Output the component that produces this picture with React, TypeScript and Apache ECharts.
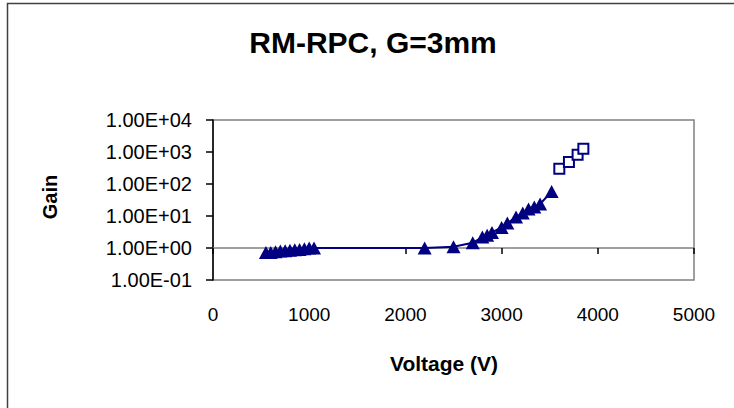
import React, { useEffect, useRef } from "react";
import * as echarts from "echarts";

const titleText = "RM-RPC, G=3mm";
const xName = "Voltage (V)";
const yName = "Gain";

const triVoltage = [550, 600, 650, 700, 750, 800, 850, 900, 950, 1000, 1050, 2200, 2500, 2700, 2800, 2850, 2900, 3000, 3060, 3150, 3220, 3280, 3340, 3400, 3520];
const triGain = [0.72, 0.72, 0.76, 0.8, 0.82, 0.85, 0.88, 0.9, 0.95, 1.0, 1.0, 1.0, 1.1, 1.45, 2.2, 2.5, 3.05, 4.4, 6.0, 9.3, 12.4, 16.6, 19, 23.7, 58];

const sqVoltage = [3600, 3700, 3790, 3850];
const sqGain = [300, 490, 820, 1260];

const xTickLabels = ["0", "1000", "2000", "3000", "4000", "5000"];
const yTickLabels = ["1.00E-01", "1.00E+00", "1.00E+01", "1.00E+02", "1.00E+03", "1.00E+04"];

export default function App() {
  const ref = useRef<HTMLDivElement>(null);
  useEffect(() => {
    if (!ref.current) return;
    const chart = echarts.init(ref.current, null, { renderer: "svg" });
    const navy = "#000080";
    const font = "Arial, 'Liberation Sans', sans-serif";
    chart.setOption({
      animation: false,
      backgroundColor: "#fff",
      grid: {
        left: 213,
        top: 120,
        right: 40,
        bottom: 128,
        show: true,
        borderColor: "#808080",
        borderWidth: 1.5,
        outerBoundsMode: "none",
      },
      xAxis: [
        {
          type: "value",
          min: 0,
          max: 5000,
          interval: 1000,
          position: "bottom",
          axisLine: { show: false },
          axisTick: { show: false },
          splitLine: { show: false },
          axisLabel: {
            fontSize: 19,
            fontFamily: font,
            color: "#000",
            margin: 25,
            formatter: (v: number) => xTickLabels[Math.round(v / 1000)] ?? "",
          },
        },
        {
          type: "value",
          min: 0,
          max: 5000,
          interval: 1000,
          position: "bottom",
          offset: -32,
          axisLine: { show: true, onZero: false, lineStyle: { color: "#808080", width: 1.5 } },
          axisTick: { show: true, length: 6, lineStyle: { color: "#000", width: 1.5 } },
          splitLine: { show: false },
          axisLabel: { show: false },
        },
      ],
      yAxis: {
        type: "log",
        logBase: 10,
        min: 0.1,
        max: 10000,
        splitNumber: 5,
        axisLine: { show: true, lineStyle: { color: "#000", width: 1.5 } },
        axisTick: { show: true, length: 7, lineStyle: { color: "#000", width: 1.5 } },
        splitLine: { show: false },
        axisLabel: {
          fontSize: 20,
          fontFamily: font,
          color: "#000",
          margin: 21,
          formatter: (v: number) => yTickLabels[Math.round(Math.log10(v)) + 1] ?? "",
        },
      },
      graphic: [
        {
          type: "rect",
          shape: { x: 7.5, y: 3.5, width: 800, height: 500 },
          style: { fill: "none", stroke: "#404040", lineWidth: 1.5 },
          silent: true,
        },
        {
          type: "text",
          x: 373,
          y: 42,
          style: { text: titleText, font: `bold 30px ${font}`, fill: "#000", textAlign: "center", textVerticalAlign: "middle" },
        },
        {
          type: "text",
          x: 444,
          y: 363,
          style: { text: xName, font: `bold 21px ${font}`, fill: "#000", textAlign: "center", textVerticalAlign: "middle" },
        },
        {
          type: "text",
          x: 50,
          y: 197,
          rotation: Math.PI / 2,
          style: { text: yName, font: `bold 20px ${font}`, fill: "#000", textAlign: "center", textVerticalAlign: "middle" },
        },
      ],
      series: [
        {
          type: "line",
          xAxisIndex: 0,
          data: triVoltage.map((v, i) => [v, triGain[i]]),
          symbol: "triangle",
          symbolSize: [14, 13],
          itemStyle: { color: navy },
          lineStyle: { color: navy, width: 2 },
          z: 3,
        },
        {
          type: "line",
          xAxisIndex: 0,
          data: sqVoltage.map((v, i) => [v, sqGain[i]]),
          symbol: "rect",
          symbolSize: 10,
          itemStyle: { color: "#fff", borderColor: navy, borderWidth: 2 },
          lineStyle: { color: navy, width: 2 },
          z: 3,
        },
      ],
    });
    return () => chart.dispose();
  }, []);
  return <div ref={ref} style={{ position: "fixed", left: 0, top: 0, width: 734, height: 408 }} />;
}
